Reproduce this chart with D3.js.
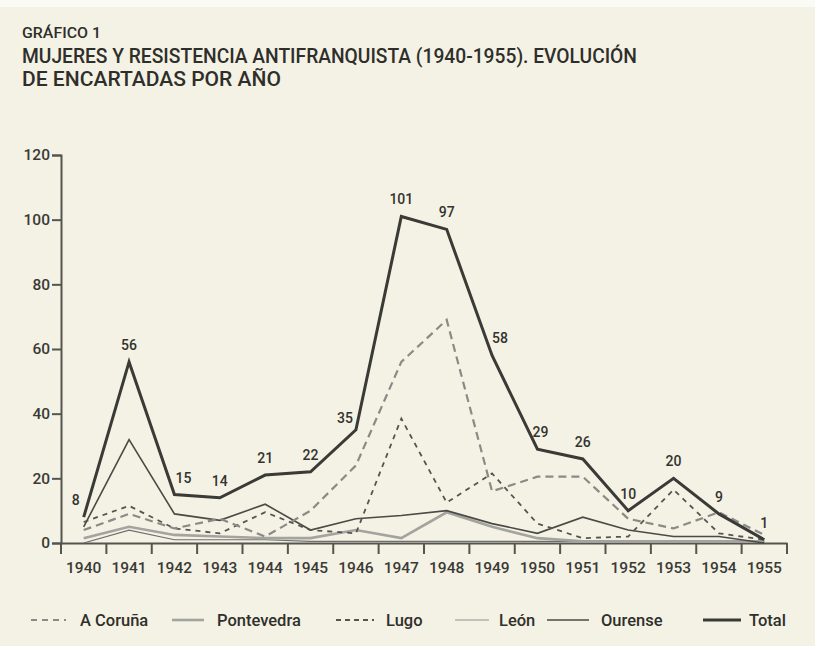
<!DOCTYPE html>
<html>
<head>
<meta charset="utf-8">
<script src="https://cdn.jsdelivr.net/npm/d3@7"></script>
<style>
  html, body { margin: 0; padding: 0; background: #f4f2e4; }
  svg { display: block; }
  text { font-family: Roboto, "Liberation Sans", Arial, sans-serif; }
</style>
</head>
<body>
<svg id="chart" width="815" height="646"></svg>
<script>
// ---- data ----
const years = ["1940","1941","1942","1943","1944","1945","1946","1947","1948","1949","1950","1951","1952","1953","1954","1955"];
const total      = [8, 56, 15, 14, 21, 22, 35, 101, 97, 58, 29, 26, 10, 20, 9, 1];
const aCoruna    = [4, 9, 4.5, 7.5, 2, 10, 24, 56, 69, 16, 20.5, 20.5, 7.5, 4.5, 9.5, 2.5];
const lugo       = [6.5, 11.5, 4.5, 3, 9.5, 4, 3, 38.5, 12.5, 21.5, 6, 1.5, 2, 16.5, 3, 1];
const pontevedra = [1.5, 5, 2.5, 2, 1.5, 1.5, 4, 1.5, 9.5, 5, 1.5, 0.5, 0.5, 0.5, 0.5, 0.5];
const leon       = [0, 4, 1, 1, 1, 0.5, 0.5, 0.5, 0.5, 0.5, 0.5, 0.5, 0.5, 0.5, 0.5, 0.5];
const ourense    = [5, 32, 9, 7, 12, 4, 7.5, 8.5, 10, 6, 3, 8, 4, 2, 2, 0];
const yTicks = [0, 20, 40, 60, 80, 100, 120];
const seriesNames = ["A Coruña", "Pontevedra", "Lugo", "León", "Ourense", "Total"];
const titleLines = ["GRÁFICO 1", "MUJERES Y RESISTENCIA ANTIFRANQUISTA (1940-1955). EVOLUCIÓN", "DE ENCARTADAS POR AÑO"];

// ---- styles ----
const styles = {
  "A Coruña":   { color: "#8a8a86", width: 2.2, dash: "8,5" },
  "Pontevedra": { color: "#a3a39f", width: 2.6, dash: null },
  "Lugo":       { color: "#55554f", width: 1.8, dash: "5,5" },
  "León":       { color: "#6e6e6a", width: 1.2, dash: null },
  "Ourense":    { color: "#4a4a46", width: 1.6, dash: null },
  "Total":      { color: "#3a3a36", width: 3.0, dash: null }
};
const seriesData = {
  "A Coruña": aCoruna, "Pontevedra": pontevedra, "Lugo": lugo,
  "León": leon, "Ourense": ourense, "Total": total
};
const drawOrder = ["León", "Pontevedra", "Ourense", "Lugo", "A Coruña", "Total"];
// label nudges (styling)
const labelDx = [-8, 0, 9, 0, 0, 0, -11, 0, 0, 8, 3, 0, 0, 0, 0, 0];
const labelDy = [0, 0, 0, 0, 0, 0, 5, 0, 0, 0, 0, 0, 0, 0, 0, 0];

const svg = d3.select("#chart");
svg.append("rect").attr("width", 815).attr("height", 646).attr("fill", "#f4f2e4");
svg.append("rect").attr("width", 815).attr("height", 7).attr("fill", "#fbfbf6");

// Title
const tl = svg.append("g").attr("fill", "#2e2e2b").attr("font-weight", 500);
tl.append("text").attr("x", 22).attr("y", 38).attr("font-size", 15)
  .attr("textLength", 79).attr("lengthAdjust", "spacingAndGlyphs").text(titleLines[0]);
tl.append("text").attr("x", 22).attr("y", 63).attr("font-size", 21)
  .attr("textLength", 615).attr("lengthAdjust", "spacingAndGlyphs").text(titleLines[1]);
tl.append("text").attr("x", 22).attr("y", 86).attr("font-size", 21)
  .attr("textLength", 259).attr("lengthAdjust", "spacingAndGlyphs").text(titleLines[2]);

// Scales
const x = d3.scaleBand().domain(years).range([61, 787]).padding(0);
const y = d3.scaleLinear().domain([0, 120]).range([543, 155]);
const cx = d => x(d) + x.bandwidth() / 2;

const axisColor = "#55554f";

// Y axis
const yAxis = svg.append("g").attr("transform", "translate(61,0)")
  .call(d3.axisLeft(y).tickValues(yTicks).tickSize(9).tickPadding(2).tickFormat(d3.format("d")));
yAxis.select(".domain").attr("stroke", axisColor).attr("stroke-width", 2);
yAxis.selectAll(".tick line").attr("stroke", axisColor).attr("stroke-width", 2);
yAxis.selectAll(".tick text").attr("fill", "#3a3a36").attr("font-size", 15.5).attr("font-weight", 500)
  .attr("font-family", "Roboto, 'Liberation Sans', sans-serif");

// X axis (labels at band centers, ticks at band boundaries)
const xAxis = svg.append("g").attr("transform", "translate(0,543)")
  .call(d3.axisBottom(x).tickSize(0).tickPadding(19));
xAxis.select(".domain").attr("stroke", axisColor).attr("stroke-width", 2);
xAxis.selectAll(".tick text").attr("fill", "#3a3a36").attr("font-size", 15.5).attr("font-weight", 500)
  .attr("font-family", "Roboto, 'Liberation Sans', sans-serif");
const boundaries = years.map(d => x(d)).concat([x(years[years.length - 1]) + x.bandwidth()]);
svg.append("g").selectAll("line").data(boundaries).join("line")
  .attr("x1", d => d).attr("x2", d => d).attr("y1", 543).attr("y2", 554)
  .attr("stroke", axisColor).attr("stroke-width", 2);

// Lines
const line = d3.line().x((d, i) => cx(years[i])).y(d => y(d)).curve(d3.curveLinear);
drawOrder.forEach(name => {
  const s = styles[name];
  svg.append("path").datum(seriesData[name])
    .attr("d", line)
    .attr("fill", "none")
    .attr("stroke", s.color)
    .attr("stroke-width", s.width)
    .attr("stroke-dasharray", s.dash)
    .attr("stroke-linejoin", "miter");
});

// Total labels
svg.append("g").selectAll("text").data(total).join("text")
  .attr("x", (d, i) => cx(years[i]) + labelDx[i])
  .attr("y", (d, i) => y(d) - 12 + labelDy[i])
  .attr("text-anchor", "middle")
  .attr("font-size", 14).attr("font-weight", 500)
  .attr("fill", "#333330")
  .text(d => d);

// Legend
const legendPos = [
  { sx: 31, ex: 66, tx: 80 },
  { sx: 172, ex: 204, tx: 217 },
  { sx: 336, ex: 374, tx: 386 },
  { sx: 455, ex: 489, tx: 499 },
  { sx: 547, ex: 589, tx: 601 },
  { sx: 703, ex: 741, tx: 749 }
];
const lg = svg.append("g");
seriesNames.forEach((name, i) => {
  const s = styles[name], p = legendPos[i];
  lg.append("line").attr("x1", p.sx).attr("x2", p.ex).attr("y1", 620).attr("y2", 620)
    .attr("stroke", name === "León" ? "#b0b0ac" : s.color)
    .attr("stroke-width", name === "León" ? 1.5 : s.width)
    .attr("stroke-dasharray", s.dash ? (name === "Lugo" ? "5,4" : "6,5") : null);
  lg.append("text").attr("x", p.tx).attr("y", 626).attr("font-size", 16.5).attr("font-weight", 500)
    .attr("fill", "#2f2f2c").text(name);
});
</script>
</body>
</html>
